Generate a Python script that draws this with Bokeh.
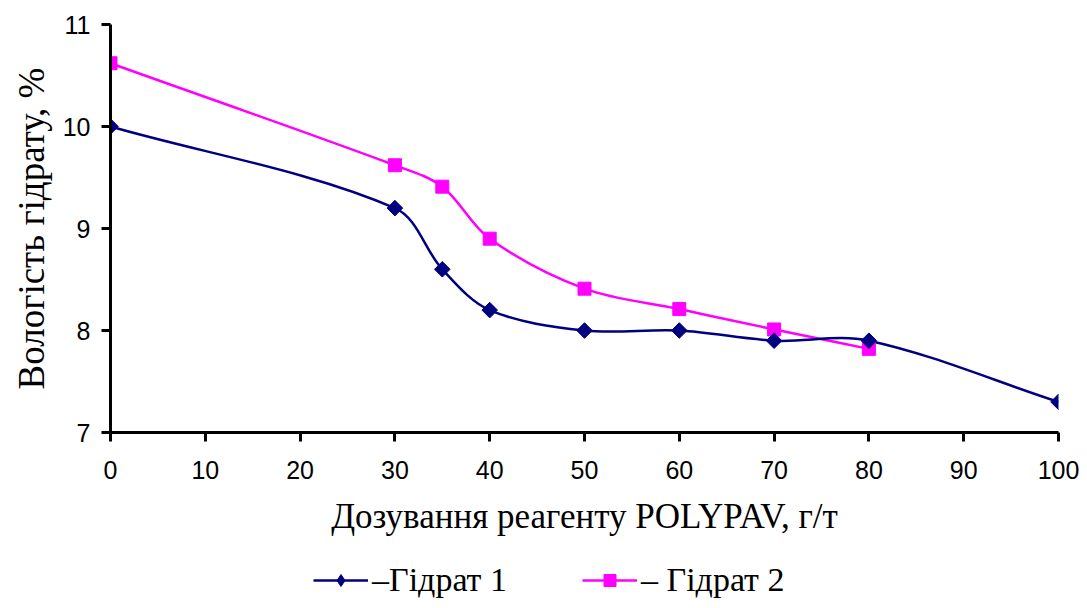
import math
from bokeh.plotting import figure
from bokeh.layouts import column
from bokeh.models import Legend, LegendItem, Range1d, FixedTicker
from bokeh.embed import file_html
from bokeh.resources import INLINE

# data
dose1 = [0, 30, 35, 40, 50, 60, 70, 80, 100]
hyd1 = [10.0, 9.2, 8.6, 8.2, 8.0, 8.0, 7.9, 7.9, 7.3]
dose2 = [0, 30, 35, 40, 50, 60, 70, 80]
hyd2 = [10.62, 9.62, 9.41, 8.9, 8.41, 8.21, 8.01, 7.82]
x_ticks = [0, 10, 20, 30, 40, 50, 60, 70, 80, 90, 100]
y_ticks = [7, 8, 9, 10, 11]
label1 = "\u2013\u0413\u0456\u0434\u0440\u0430\u0442 1"
label2 = "\u2013 \u0413\u0456\u0434\u0440\u0430\u0442 2"
x_title = "Дозування реагенту POLYPAV, г/т"
y_title = "Вологість гідрату, %"

X0, X1, Y0, Y1 = 0, 100, 7, 11
FRAME_W, FRAME_H = 948, 408
SERIF = "Liberation Serif, serif"


def smooth_segments(xs, ys):
    """Spreadsheet-style smoothed line: Bezier control points weighted by segment lengths (screen space)."""
    kx = FRAME_W / (X1 - X0)
    ky = FRAME_H / (Y1 - Y0)
    n = len(xs)
    sx = [x * kx for x in xs]
    sy = [y * ky for y in ys]

    def dist(i, j):
        return math.hypot(sx[j] - sx[i], sy[j] - sy[i])

    out = dict(x0=[], y0=[], x1=[], y1=[], cx0=[], cy0=[], cx1=[], cy1=[])
    f = 1.0 / 3.0
    for i in range(n - 1):
        a = max(i - 1, 0)
        d = min(i + 2, n - 1)
        d01 = dist(a, i)
        d12 = dist(i, i + 1)
        d23 = dist(i + 1, d)
        f1 = f * d12 / (d01 + d12)
        f2 = f * d12 / (d12 + d23)
        c1x = sx[i] + f1 * (sx[i + 1] - sx[a])
        c1y = sy[i] + f1 * (sy[i + 1] - sy[a])
        c2x = sx[i + 1] - f2 * (sx[d] - sx[i])
        c2y = sy[i + 1] - f2 * (sy[d] - sy[i])
        out["x0"].append(xs[i]); out["y0"].append(ys[i])
        out["x1"].append(xs[i + 1]); out["y1"].append(ys[i + 1])
        out["cx0"].append(c1x / kx); out["cy0"].append(c1y / ky)
        out["cx1"].append(c2x / kx); out["cy1"].append(c2y / ky)
    return out


navy = "#000080"
mag = "#FF00FF"

p = figure(width=1087, height=560, output_backend="svg", toolbar_location=None,
           x_range=Range1d(X0, X1), y_range=Range1d(Y0, Y1),
           min_border_left=110, min_border_right=29, min_border_top=24,
           min_border_bottom=128)
p.outline_line_color = None
p.xgrid.visible = False
p.ygrid.visible = False
p.background_fill_color = "white"
p.border_fill_color = "white"

s1 = smooth_segments(dose1, hyd1)
s2 = smooth_segments(dose2, hyd2)
p.bezier(x0=s2["x0"], y0=s2["y0"], x1=s2["x1"], y1=s2["y1"],
         cx0=s2["cx0"], cy0=s2["cy0"], cx1=s2["cx1"], cy1=s2["cy1"],
         line_color=mag, line_width=2.5)
p.bezier(x0=s1["x0"], y0=s1["y0"], x1=s1["x1"], y1=s1["y1"],
         cx0=s1["cx0"], cy0=s1["cy0"], cx1=s1["cx1"], cy1=s1["cy1"],
         line_color=navy, line_width=2.5)
p.scatter(dose2, hyd2, marker="square", size=13, fill_color=mag, line_color=mag)
p.scatter(dose1, hyd1, marker="square", size=11, angle=math.pi / 4,
          fill_color=navy, line_color=navy)

for ax in (p.xaxis[0], p.yaxis[0]):
    ax.axis_line_width = 3
    ax.axis_line_color = "black"
    ax.major_tick_line_width = 3
    ax.major_tick_line_color = "black"
    ax.major_tick_in = 0
    ax.major_tick_out = 9
    ax.minor_tick_line_color = None
    ax.major_label_text_font = "Liberation Sans"
    ax.major_label_text_font_size = "25px"
    ax.major_label_text_color = "black"
    ax.axis_label_text_font = SERIF
    ax.axis_label_text_font_style = "normal"
    ax.axis_label_text_color = "black"

p.xaxis[0].axis_label_text_font_size = "35px"
p.yaxis[0].axis_label_text_font_size = "37px"
p.xaxis[0].ticker = FixedTicker(ticks=x_ticks)
p.yaxis[0].ticker = FixedTicker(ticks=y_ticks)
p.xaxis[0].axis_label = x_title
p.yaxis[0].axis_label = y_title
p.xaxis[0].major_label_standoff = 19
p.yaxis[0].major_label_standoff = 11
p.xaxis[0].axis_label_standoff = 15
p.yaxis[0].axis_label_standoff = 8

# legend strip below the chart (its glyph renderers lie outside its visible ranges)
lg = figure(width=1087, height=48, output_backend="svg", toolbar_location=None,
            x_range=Range1d(1000, 1001), y_range=Range1d(1000, 1001),
            x_axis_location=None, y_axis_location=None,
            min_border_left=0, min_border_right=0, min_border_top=0, min_border_bottom=0)
lg.outline_line_color = None
lg.xgrid.visible = False
lg.ygrid.visible = False
l1 = lg.line(x=dose1, y=hyd1, line_color=navy, line_width=2.5)
d1 = lg.scatter(x=dose1, y=hyd1, marker="diamond", size=13, fill_color=navy, line_color=navy)
l2 = lg.line(x=dose2, y=hyd2, line_color=mag, line_width=2.5)
d2 = lg.scatter(x=dose2, y=hyd2, marker="square", size=10, fill_color=mag, line_color=mag)

legend = Legend(items=[LegendItem(label=label1, renderers=[l1, d1]),
                       LegendItem(label=label2, renderers=[l2, d2])],
                orientation="horizontal", location=(203, 9),
                label_text_font=SERIF, label_text_font_size="34px",
                label_text_color="black", glyph_width=55, glyph_height=30,
                label_standoff=4, spacing=75, padding=0, margin=0,
                border_line_color=None, background_fill_alpha=0)
lg.add_layout(legend, "center")

layout = column(p, lg, spacing=0)
open("out.html", "w").write(file_html(layout, INLINE))
